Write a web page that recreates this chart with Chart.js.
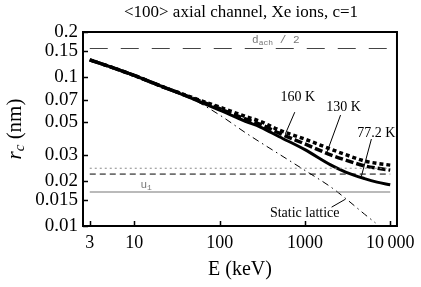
<!DOCTYPE html>
<html>
<head>
<meta charset="utf-8">
<script src="https://cdn.jsdelivr.net/npm/chart.js@4/dist/chart.umd.min.js"></script>
<style>
html, body { margin: 0; padding: 0; background: #fff; }
#wrap { width: 421px; height: 287px; }
</style>
</head>
<body>
<div id="wrap"><canvas id="myChart"></canvas></div>
<script>
// energies (keV) and critical radius r_c (nm)
const energies = [3, 5, 10, 20, 30, 50, 100, 200, 300, 500, 1000, 2000, 3000, 5000, 7000, 10000];
const r77 = [0.130, 0.1178, 0.1022, 0.0872, 0.0797, 0.0706, 0.0598, 0.0504, 0.0461, 0.0397, 0.0325, 0.0257, 0.0230, 0.0208, 0.0197, 0.0189];
const r130 = [0.130, 0.1178, 0.1022, 0.0872, 0.0799, 0.0714, 0.0612, 0.0522, 0.0481, 0.0419, 0.0355, 0.0300, 0.0277, 0.0253, 0.0244, 0.0237];
const r160 = [0.130, 0.1178, 0.1022, 0.0872, 0.0801, 0.0720, 0.0627, 0.0543, 0.0503, 0.0440, 0.0382, 0.0328, 0.0301, 0.0273, 0.0263, 0.0256];
const staticE = [3, 5, 10, 20, 30, 50, 100, 200, 300, 500, 1000, 2000, 3000, 5000, 6700];
const rStatic = [0.130, 0.1178, 0.1022, 0.0872, 0.0796, 0.0700, 0.0555, 0.0423, 0.0364, 0.0303, 0.0236, 0.0183, 0.0153, 0.0120, 0.0105];

// horizontal reference levels
const halfChannel = 0.155;
const levelDotted = 0.0244;
const levelDashed = 0.0223;
const u1 = 0.0169;
const lineSpan = [3, 10000];

const xTicks = [3, 10, 100, 1000, 10000];
const xTickLabels = ['3', '10', '100', '1000', '10\u2009000'];
const yTicks = [0.01, 0.015, 0.02, 0.03, 0.05, 0.07, 0.1, 0.15, 0.2];
const yTickLabels = ['0.01', '0.015', '0.02', '0.03', '0.05', '0.07', '0.1', '0.15', '0.2'];

const serif = '"Liberation Serif", "Times New Roman", serif';
const mono = '"Liberation Mono", "DejaVu Sans Mono", monospace';

function pts(xs, ys) {
    return xs.map((x, i) => ({ x: x, y: ys[i] }));
}
function flat(v) {
    return lineSpan.map(x => ({ x: x, y: v }));
}

// pointer labels, given in data coordinates
const notes = [
    { text: '160 K', at: [824, 0.0733], from: [760, 0.058], to: [590, 0.0415] },
    { text: '130 K', at: [2835, 0.0628], from: [2617, 0.0555], to: [1795, 0.0308] },
    { text: '77.2 K', at: [6880, 0.042], from: [6016, 0.0383], to: [4597, 0.0216] },
    { text: 'Static lattice', at: [994, 0.0122], from: [2054, 0.01338], to: [2990, 0.01514] }
];

const frame = {
    id: 'frame',
    afterDatasetsDraw(chart) {
        const { ctx, chartArea: a, scales: { x, y } } = chart;
        ctx.save();
        // ticks inside
        ctx.strokeStyle = '#000';
        ctx.lineWidth = 1.5;
        ctx.beginPath();
        xTicks.forEach(v => {
            const px = Math.round(x.getPixelForValue(v)) + 0.5;
            ctx.moveTo(px, a.bottom);
            ctx.lineTo(px, a.bottom - 5);
        });
        yTicks.forEach(v => {
            const py = Math.round(y.getPixelForValue(v)) + 0.5;
            ctx.moveTo(a.left, py);
            ctx.lineTo(a.left + 5, py);
        });
        ctx.stroke();
        ctx.lineWidth = 2;
        ctx.strokeRect(a.left, a.top, a.right - a.left, a.bottom - a.top);

        // pointer notes
        ctx.lineWidth = 1;
        ctx.fillStyle = '#000';
        ctx.font = '14px ' + serif;
        ctx.textAlign = 'center';
        ctx.textBaseline = 'middle';
        notes.forEach(n => {
            ctx.beginPath();
            ctx.moveTo(x.getPixelForValue(n.from[0]), y.getPixelForValue(n.from[1]));
            ctx.lineTo(x.getPixelForValue(n.to[0]), y.getPixelForValue(n.to[1]));
            ctx.stroke();
            ctx.fillText(n.text, x.getPixelForValue(n.at[0]), y.getPixelForValue(n.at[1]));
        });

        // d_ach / 2 and u_1 labels
        ctx.fillStyle = '#777';
        ctx.textAlign = 'left';
        ctx.textBaseline = 'alphabetic';
        let px = x.getPixelForValue(240);
        let py = y.getPixelForValue(0.18) + 4;
        ctx.font = '11px ' + mono;
        ctx.fillText('d', px, py);
        px += ctx.measureText('d').width;
        ctx.font = '8px ' + mono;
        ctx.fillText('ach', px, py + 2);
        px += ctx.measureText('ach').width;
        ctx.font = '11px ' + mono;
        ctx.fillText(' / 2', px, py);

        px = x.getPixelForValue(11.8);
        py = y.getPixelForValue(0.0188) + 3;
        ctx.fillText('u', px, py);
        px += ctx.measureText('u').width;
        ctx.font = '8px ' + mono;
        ctx.fillText('1', px, py + 2);

        // title
        ctx.fillStyle = '#000';
        ctx.textAlign = 'center';
        ctx.textBaseline = 'middle';
        ctx.font = '17px ' + serif;
        ctx.fillText('<100> axial channel, Xe ions, c=1', (a.left + a.right) / 2 + 1, 13);

        // x title
        ctx.font = '20px ' + serif;
        ctx.fillText('E (keV)', (a.left + a.right) / 2, 270);

        // y title, rotated
        ctx.translate(15, (a.top + a.bottom) / 2);
        ctx.rotate(-Math.PI / 2);
        ctx.textAlign = 'left';
        ctx.textBaseline = 'middle';
        const big = 'italic 21px ' + serif;
        const small = 'italic 15px ' + serif;
        const reg = '21px ' + serif;
        ctx.font = big; const w1 = ctx.measureText('r').width;
        ctx.font = small; const w2 = ctx.measureText('c').width;
        ctx.font = reg; const w3 = ctx.measureText(' (nm)').width;
        let sx = -(w1 + w2 + w3) / 2;
        ctx.font = big; ctx.fillText('r', sx, 0); sx += w1;
        ctx.font = small; ctx.fillText('c', sx, 5); sx += w2;
        ctx.font = reg; ctx.fillText(' (nm)', sx, 0);
        ctx.restore();
    }
};

const smooth = { cubicInterpolationMode: 'monotone' };

new Chart(document.getElementById('myChart'), {
    type: 'line',
    data: {
        datasets: [
            { data: flat(halfChannel), borderColor: '#444', borderWidth: 1, borderDash: [18, 13] },
            { data: flat(levelDotted), borderColor: '#888', borderWidth: 1, borderDash: [2, 3] },
            { data: flat(levelDashed), borderColor: '#000', borderWidth: 1, borderDash: [6, 4] },
            { data: flat(u1), borderColor: '#777', borderWidth: 1.2 },
            Object.assign({ data: pts(staticE, rStatic), borderColor: '#000', borderWidth: 1, borderDash: [7, 4, 1.5, 4] }, smooth),
            Object.assign({ data: pts(energies, r77), borderColor: '#000', borderWidth: 3 }, smooth),
            Object.assign({ data: pts(energies, r130), borderColor: '#000', borderWidth: 3.5, borderDash: [8, 3] }, smooth),
            Object.assign({ data: pts(energies, r160), borderColor: '#000', borderWidth: 3.5, borderDash: [4, 3] }, smooth)
        ]
    },
    options: {
        animation: false,
        responsive: true,
        maintainAspectRatio: false,
        layout: { padding: { top: 32, right: 22, left: 0, bottom: 0 } },
        elements: { point: { radius: 0 } },
        plugins: {
            legend: { display: false },
            tooltip: { enabled: false }
        },
        scales: {
            x: {
                type: 'logarithmic',
                min: 2.5,
                max: 12000,
                afterBuildTicks: s => { s.ticks = xTicks.map(v => ({ value: v })); },
                afterFit: s => { s.height = 61; },
                grid: { display: false, drawTicks: false },
                border: { display: false },
                ticks: {
                    autoSkip: false,
                    maxRotation: 0,
                    padding: 6,
                    color: '#000',
                    font: { family: serif, size: 18 },
                    callback: (v) => xTickLabels[xTicks.indexOf(v)]
                }
            },
            y: {
                type: 'logarithmic',
                min: 0.01,
                max: 0.2,
                afterBuildTicks: s => { s.ticks = yTicks.map(v => ({ value: v })); },
                afterFit: s => { s.width = 83; },
                grid: { display: false, drawTicks: false },
                border: { display: false },
                ticks: {
                    autoSkip: false,
                    padding: 5,
                    color: '#000',
                    font: { family: serif, size: 19 },
                    callback: (v) => yTickLabels[yTicks.indexOf(v)]
                }
            }
        }
    },
    plugins: [frame]
});
</script>
</body>
</html>
